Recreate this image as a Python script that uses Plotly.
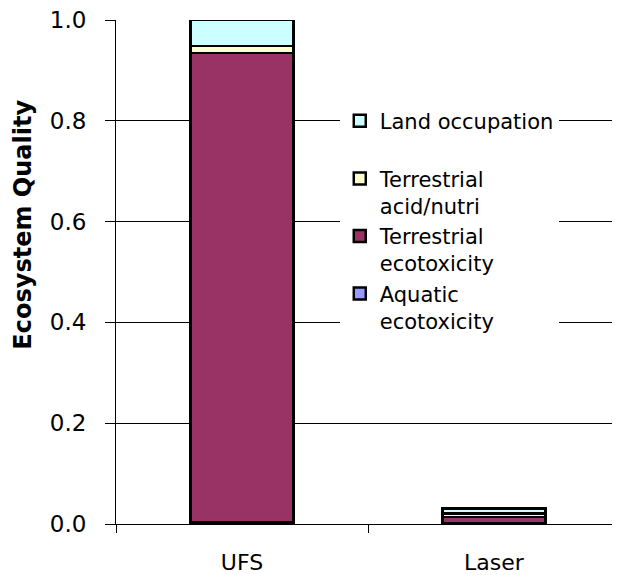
import plotly.graph_objects as go

categories = ["UFS", "Laser"]
aquatic_ecotox = [0.004, 0.001]
terrestrial_ecotox = [0.931, 0.013]
terrestrial_acid = [0.013, 0.007]
land_occupation = [0.052, 0.010]
y_ticks = [0.0, 0.2, 0.4, 0.6, 0.8, 1.0]

series = [
    ("Aquatic<br>ecotoxicity", aquatic_ecotox, "#9999FF"),
    ("Terrestrial<br>ecotoxicity", terrestrial_ecotox, "#993366"),
    ("Terrestrial<br>acid/nutri", terrestrial_acid, "#FFFFCC"),
    ("Land occupation<br> ", land_occupation, "#CCFFFF"),
]

FONT = "DejaVu Sans"

fig = go.Figure()
for name, vals, col in series:
    fig.add_trace(go.Bar(
        x=categories, y=vals, name=name,
        marker=dict(color=col, line=dict(color="black", width=2.5)),
    ))

fig.update_layout(
    width=612, height=567, autosize=False,
    barmode="stack", bargap=0.59,
    margin=dict(l=108, r=0, t=12, b=51, pad=0),
    paper_bgcolor="white", plot_bgcolor="white",
    font=dict(family=FONT, size=22, color="black"),
    showlegend=True,
    legend=dict(
        traceorder="reversed", valign="top",
        x=0.444, y=0.84, xanchor="left", yanchor="top",
        bgcolor="white", borderwidth=0,
        font=dict(family=FONT, size=21, color="black"),
        tracegroupgap=0,
    ),
    xaxis=dict(
        showline=True, linecolor="black", linewidth=1,
        ticks="outside", tickson="boundaries", ticklen=8, tickcolor="black",
        tickfont=dict(family=FONT, size=22, color="black"),
        ticklabelstandoff=19, ticklabeloverflow="allow",
    ),
    yaxis=dict(
        range=[0, 1], tickmode="array", tickvals=y_ticks,
        ticktext=[f"{v:.1f}" for v in y_ticks],
        showgrid=True, gridcolor="black", gridwidth=1,
        showline=True, linecolor="black", linewidth=1,
        ticks="outside", ticklen=10, tickcolor="black",
        zeroline=False,
        tickfont=dict(family=FONT, size=23, color="black"),
        ticklabelstandoff=14, ticklabeloverflow="allow",
    ),
    annotations=[dict(
        text="<b>Ecosystem Quality</b>", textangle=-90,
        xref="paper", yref="paper", x=-0.1845, y=0.594,
        xanchor="center", yanchor="middle", showarrow=False,
        font=dict(family=FONT, size=24, color="black"),
    )],
)

fig.write_html("out.html")
